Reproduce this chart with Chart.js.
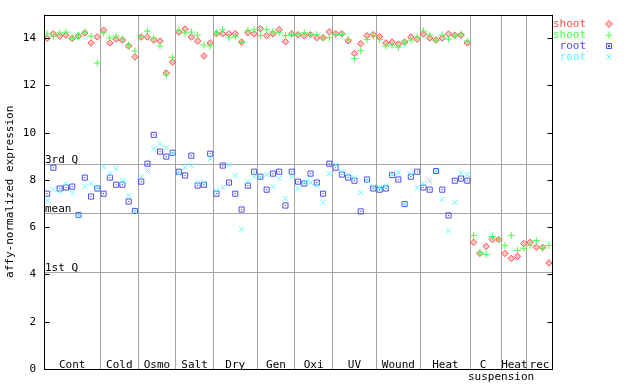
<!DOCTYPE html>
<html>
<head>
<meta charset="utf-8">
<script src="https://cdn.jsdelivr.net/npm/chart.js@4.4.1/dist/chart.umd.min.js"></script>
<style>
  html, body { margin: 0; padding: 0; background: #fff; }
  canvas { display: block; }
</style>
</head>
<body>
<canvas id="grafica" width="640" height="384"></canvas>
<script>
// grupos de condiciones (eje x)
const grupos = ["Cont", "Cold", "Osmo", "Salt", "Dry", "Gen", "Oxi", "UV", "Wound", "Heat", "C\nsuspension", "Heat", "rec"];
const muestrasPorGrupo = [9, 6, 6, 6, 7, 6, 6, 7, 7, 8, 5, 4, 4];

// series
const nombresSeries = ["shoot", "shoot", "root", "root"];
const shootRojo = [
    14.00, 14.18, 14.09, 14.13, 13.99, 14.09, 14.22, 13.80, 14.05,
    14.34, 13.80, 13.96, 13.92, 13.67, 13.21,
    14.05, 14.05, 13.92, 13.88, 12.53, 12.99,
    14.26, 14.39, 14.05, 13.88, 13.25, 13.80,
    14.19, 14.19, 14.19, 14.19, 13.84, 14.23, 14.19,
    14.40, 14.11, 14.19, 14.36, 13.85, 14.19,
    14.15, 14.11, 14.15, 14.02, 14.02, 14.27,
    14.19, 14.19, 13.89, 13.35, 13.77, 14.11, 14.15,
    14.06, 13.80, 13.84, 13.75, 13.84, 14.05, 13.96,
    14.18, 14.01, 13.92, 14.01, 14.18, 14.13, 14.13, 13.80,
    5.36, 4.89, 5.19, 5.48, 5.48,
    4.89, 4.68, 4.77, 5.31,
    5.36, 5.15, 5.15, 4.49
];
const shootVerde = [
    14.18, 14.09, 14.22, 14.26, 14.01, 14.13, 14.26, 14.09, 12.95,
    14.22, 14.01, 14.09, 13.96, 13.71, 13.46,
    14.06, 14.30, 14.01, 13.67, 12.45, 13.19,
    14.34, 14.22, 14.26, 14.13, 13.71, 13.67,
    14.23, 14.36, 14.02, 14.06, 13.82, 14.32, 14.36,
    14.11, 14.36, 14.27, 14.23, 14.11, 14.15,
    14.15, 14.23, 14.15, 14.15, 14.02, 14.02,
    14.15, 14.15, 13.94, 13.14, 13.47, 13.94, 14.11,
    13.94, 13.67, 13.71, 13.62, 13.80, 13.92, 14.05,
    14.30, 14.13, 13.92, 14.13, 13.96, 14.09, 14.18, 13.88,
    5.65, 4.94, 4.85, 5.61, 5.48,
    5.23, 5.65, 5.02, 5.11,
    5.23, 5.44, 5.11, 5.23
];
const rootAzul = [
    7.42, 8.52, 7.64, 7.68, 7.72, 6.52, 8.10, 7.30, 7.64,
    7.42, 8.10, 7.80, 7.80, 7.09, 6.69,
    7.93, 8.69, 9.91, 9.20, 8.99, 9.15,
    8.35, 8.19, 9.03, 7.76, 7.80, 9.11,
    7.42, 8.61, 7.89, 7.42, 6.75, 7.76, 8.35,
    8.14, 7.59, 8.27, 8.35, 6.92, 8.35,
    7.93, 7.85, 8.27, 7.89, 7.42, 8.69,
    8.52, 8.23, 8.10, 7.97, 6.67, 8.02, 7.64,
    7.59, 7.64, 8.21, 8.02, 6.98, 8.14, 8.35,
    7.68, 7.59, 8.38, 7.59, 6.50, 7.97, 8.06, 7.97
];
const rootCian = [
    7.13, 7.59, 7.51, 7.85, 7.47, 6.48, 7.72, 7.85, 7.68,
    8.56, 8.27, 8.48, 7.97, 7.34, 6.67,
    8.14, 8.40, 9.32, 9.53, 9.37, 9.11,
    8.27, 8.52, 8.61, 7.89, 7.89, 8.90,
    7.55, 7.68, 8.65, 8.19, 5.91, 7.93, 8.14,
    8.12, 8.23, 7.72, 8.06, 7.21, 8.14,
    7.64, 7.89, 7.89, 7.76, 7.05, 8.27,
    8.65, 8.35, 8.23, 8.10, 7.47, 7.97, 7.72,
    7.68, 7.74, 8.25, 8.31, 6.98, 8.25, 7.68,
    7.85, 7.97, 8.38, 7.17, 5.86, 7.05, 8.31, 8.23
];

// eje y y lineas de cuartiles
const ticksY = [0, 2, 4, 6, 8, 10, 12, 14];
const cuartiles = [8.69, 6.62, 4.09];
const etiquetasCuartiles = ["3rd Q", "mean", "1st Q"];

const colores = ["#ff4c4c", "#4cff4c", "#4c4cf0", "#5cffff"];
const rellenos = ["#ffc4c4", "rgba(0,0,0,0)", "rgba(0,0,0,0)", "rgba(0,0,0,0)"];
const estilos = ["rectRot", "cross", "rect", "crossRot"];

const totalMuestras = muestrasPorGrupo.reduce((a, b) => a + b, 0);
const limites = [0];
muestrasPorGrupo.forEach(n => limites.push(limites[limites.length - 1] + n));

const aPuntos = serie => serie.map((v, i) => ({ x: i + 0.5, y: v }));

const fuente = "'DejaVu Sans Mono', monospace";
Chart.defaults.font.family = fuente;
Chart.defaults.font.size = 11;
Chart.defaults.color = "#000";

const decoracion = {
    id: "decoracion",
    beforeDatasetsDraw(chart) {
        const { ctx, chartArea: a, scales: { x, y } } = chart;
        ctx.save();
        ctx.font = "11px " + fuente;
        ctx.fillStyle = "#000";
        ctx.strokeStyle = "#a4a4a4";
        ctx.lineWidth = 1;

        // lineas de cuartiles
        cuartiles.forEach((q, k) => {
            const py = Math.round(y.getPixelForValue(q)) + 0.5;
            ctx.beginPath();
            ctx.moveTo(a.left, py);
            ctx.lineTo(a.right, py);
            ctx.stroke();
            ctx.textAlign = "left";
            ctx.textBaseline = "alphabetic";
            ctx.fillText(etiquetasCuartiles[k], a.left + 1, py - 1.5);
        });

        // nombres de grupos (la segunda linea empieza en el borde del grupo)
        grupos.forEach((g, k) => {
            const cx = x.getPixelForValue(limites[k] + muestrasPorGrupo[k] / 2);
            const izq = x.getPixelForValue(limites[k]);
            g.split("\n").forEach((linea, j) => {
                if (j === 0) {
                    ctx.textAlign = "center";
                    ctx.fillText(linea, cx - (g.includes("\n") ? 3 : 0), a.bottom - 1);
                } else {
                    ctx.textAlign = "left";
                    ctx.fillText(linea, izq - 2.5, a.bottom - 1 + j * 12);
                }
            });
        });
        ctx.restore();
    },
    afterDatasetsDraw(chart) {
        const { ctx, chartArea: a, scales: { y } } = chart;
        ctx.save();
        ctx.strokeStyle = "#000";
        ctx.lineWidth = 1;
        const l = Math.round(a.left) + 0.5, r = Math.round(a.right) + 0.5;
        const t = Math.round(a.top) + 0.5, b = Math.round(a.bottom) + 0.5;
        ctx.strokeRect(l, t, r - l, b - t);

        // marcas hacia adentro, izquierda y derecha
        ctx.beginPath();
        ticksY.forEach(v => {
            const py = Math.round(y.getPixelForValue(v)) + 0.5;
            ctx.moveTo(l, py); ctx.lineTo(l + 5, py);
            ctx.moveTo(r, py); ctx.lineTo(r - 5, py);
        });
        ctx.stroke();

        // leyenda
        ctx.font = "11px " + fuente;
        ctx.textBaseline = "middle";
        ctx.textAlign = "right";
        nombresSeries.forEach((nombre, k) => {
            const py = 24 + k * 11;
            ctx.fillStyle = colores[k];
            ctx.fillText(nombre, 586, py);
            ctx.strokeStyle = colores[k];
            ctx.fillStyle = rellenos[k];
            Chart.helpers.drawPoint(ctx, { pointStyle: estilos[k], radius: 3.5, borderWidth: 1, rotation: 0 }, 609, py);
            if (estilos[k] === "rect") {
                ctx.fillStyle = colores[k];
                ctx.fillRect(608, py - 1, 2, 2);
            }
        });
        ctx.restore();
    }
};

function serie(datos, k, extra) {
    return Object.assign({
        label: nombresSeries[k],
        data: aPuntos(datos),
        showLine: false,
        pointStyle: estilos[k],
        pointRadius: 3.5,
        pointBorderWidth: 1,
        pointBorderColor: colores[k],
        pointBackgroundColor: rellenos[k],
        pointHoverRadius: 3.5
    }, extra || {});
}

new Chart(document.getElementById("grafica"), {
    type: "scatter",
    data: {
        datasets: [
            serie(shootRojo, 0, { order: 5, pointRadius: 3.2 }),
            serie(shootVerde, 1, { order: 4 }),
            serie(rootAzul, 2, { order: 3, pointRadius: 3.6 }),
            serie(rootAzul, 2, { order: 2, pointRadius: 0.8, pointBackgroundColor: colores[2], pointBorderWidth: 0 }),
            serie(rootCian, 3, { order: 1, pointRadius: 3.6 })
        ]
    },
    options: {
        responsive: false,
        animation: false,
        devicePixelRatio: 1,
        layout: { padding: { left: 0, top: 13, right: 88, bottom: 0 } },
        plugins: { legend: { display: false }, tooltip: { enabled: false } },
        scales: {
            x: {
                type: "linear",
                min: 0,
                max: totalMuestras,
                afterBuildTicks: s => { s.ticks = limites.map(v => ({ value: v })); },
                afterFit: s => { s.height = 15; },
                ticks: { display: false },
                grid: { color: "#a4a4a4", drawTicks: false },
                border: { display: false }
            },
            y: {
                min: 0,
                max: 15,
                afterBuildTicks: s => { s.ticks = ticksY.map(v => ({ value: v })); },
                afterFit: s => { s.width = 44; },
                ticks: { padding: 8, font: { size: 11 } },
                grid: { display: false, drawTicks: false },
                border: { display: false },
                title: { display: true, text: "affy-normalized expression", font: { size: 11 }, padding: { top: 4, bottom: 4 } }
            }
        }
    },
    plugins: [decoracion]
});
</script>
</body>
</html>
